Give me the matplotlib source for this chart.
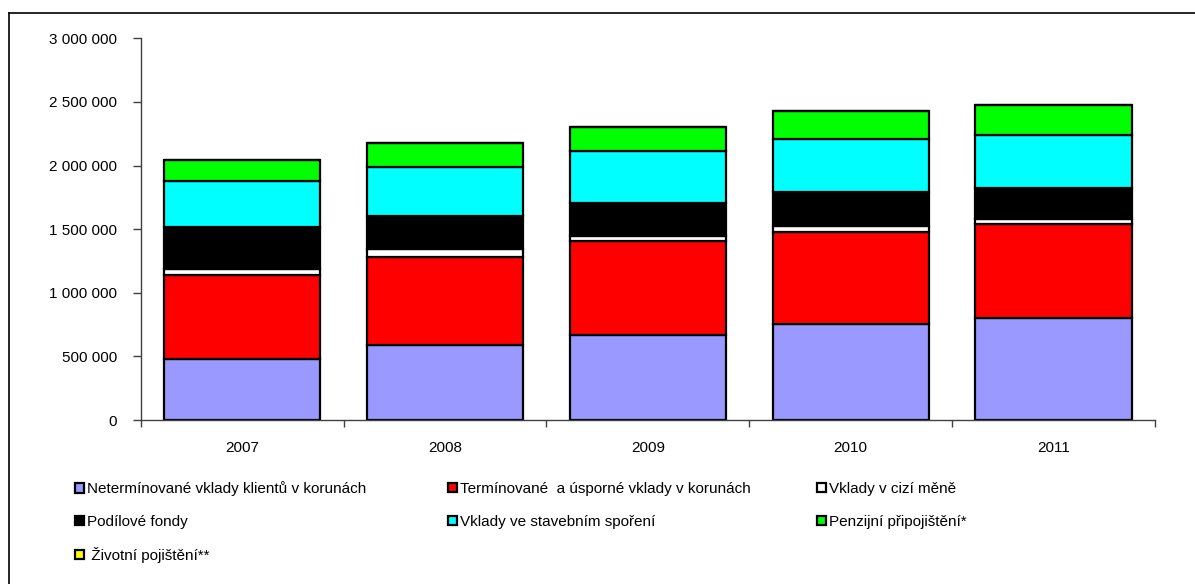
import matplotlib
matplotlib.use("Agg")
import matplotlib.pyplot as plt
import numpy as np
from matplotlib.ticker import FuncFormatter, FixedLocator
from matplotlib.lines import Line2D

plt.rcParams['font.family'] = ['Liberation Sans', 'DejaVu Sans']

years = ['2007', '2008', '2009', '2010', '2011']
series_names = [
    'Netermínované vklady klientů v korunách',
    'Termínované  a úsporné vklady v korunách',
    'Vklady v cizí měně',
    'Podílové fondy',
    'Vklady ve stavebním spoření',
    'Penzijní připojištění*',
    ' Životní pojištění**',
]
netermin = [476000, 588000, 667000, 753000, 805000]
termin = [667000, 693000, 737000, 724000, 732000]
cizi_mena = [44000, 65000, 41000, 50000, 45000]
podilove = [329000, 254000, 259000, 267000, 245000]
stavebni = [364000, 387000, 408000, 415000, 414000]
penzijni = [167000, 188000, 191000, 217000, 237000]
zivotni = [0, 0, 0, 0, 0]

colors = ['#9999FF', '#FF0000', '#FFFFFF', '#000000', '#00FFFF', '#00FF00', '#FFFF00']

fig = plt.figure(figsize=(11.95, 5.84), dpi=100)
ax = fig.add_axes([140.7 / 1195, 164 / 584, (1155 - 140.7) / 1195, (420 - 38.3) / 584])

x = np.arange(len(years))
bottom = np.zeros(len(years))
handles = []
for vals, col in zip([netermin, termin, cizi_mena, podilove, stavebni, penzijni, zivotni], colors):
    b = ax.bar(x, vals, 0.77, bottom=bottom, color=col, edgecolor='black', linewidth=1.6)
    handles.append(b)
    bottom += np.array(vals)

ax.set_xlim(-0.5, len(years) - 0.5)
ax.set_ylim(0, 3000000)
ax.set_yticks(np.arange(0, 3000001, 500000))
ax.yaxis.set_major_formatter(FuncFormatter(lambda v, p: f'{int(v):,}'.replace(',', ' ')))
ax.set_xticks(x)
ax.set_xticklabels(years)
ax.xaxis.set_minor_locator(FixedLocator(np.arange(-0.5, len(years), 1.0)))
ax.tick_params(axis='x', which='major', length=0, pad=15, labelsize=11)
ax.tick_params(axis='x', which='minor', length=5, width=1, color='#404040')
ax.tick_params(axis='y', length=6, width=1, color='#404040', pad=11, labelsize=11)
for s in ['top', 'right']:
    ax.spines[s].set_visible(False)
for s in ['left', 'bottom']:
    ax.spines[s].set_color('#404040')
    ax.spines[s].set_linewidth(1)

# legend laid out row by row like the original
col_x = [75, 448, 817]
row_y = [489, 522, 555]
for i, (h, name) in enumerate(zip(handles, series_names)):
    r, c = divmod(i, 3)
    fig.legend([h], [name], loc='center left',
               bbox_to_anchor=(col_x[c] / 1195, 1 - row_y[r] / 584),
               frameon=False, fontsize=11, handlelength=0.6, handleheight=0.6,
               handletextpad=0.2, borderpad=0, borderaxespad=0)

# outer frame (left and top edges visible)
fig.add_artist(Line2D([8.5 / 1195, 8.5 / 1195], [0, 1 - 12.5 / 584], color='black', lw=1.2))
fig.add_artist(Line2D([8.5 / 1195, 1], [1 - 12.5 / 584, 1 - 12.5 / 584], color='black', lw=1.2))

fig.savefig('out.png', dpi=100)
